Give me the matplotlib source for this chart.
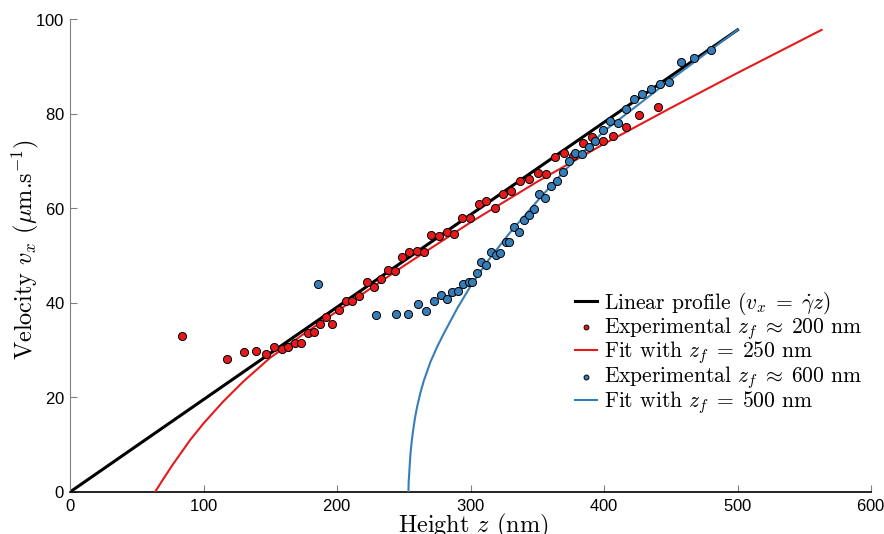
import matplotlib
matplotlib.use('Agg')
import matplotlib.pyplot as plt

plt.rcParams['mathtext.fontset'] = 'cm'
plt.rcParams['font.family'] = 'serif'
plt.rcParams['font.serif'] = ['cmr10', 'DejaVu Serif']
plt.rcParams['axes.formatter.use_mathtext'] = True

rouge = '#e41a1c'
bleu = '#377eb8'

# profil lineaire
lin_z = [0, 500]
lin_v = [0, 97.7]

# experience z_f ~ 200 nm
rouge_z = [84, 117.4, 130.6, 139.3, 146.6, 152.8, 158.6, 163.5, 168.3, 173, 178, 182.5,
           187.3, 191.8, 196.3, 201.5, 206.5, 211.2, 216.5, 222.2, 227.7, 232.7, 238,
           243.2, 248.7, 254.2, 259.7, 265.2, 270.6, 276.2, 282.2, 287.6, 293.9, 299.9,
           306.1, 311.8, 318.4, 324.6, 330.6, 337.1, 343.6, 350.3, 356.6, 363.5, 370.3,
           377, 384.5, 391.2, 399, 407, 416.2, 426.5, 440.2]
rouge_v = [33.0, 28.1, 29.7, 29.8, 29.1, 30.6, 30.2, 30.6, 31.6, 31.5, 33.6, 33.9,
           35.5, 37.0, 35.5, 38.5, 40.4, 40.4, 41.4, 44.4, 43.4, 45.1, 46.9,
           46.7, 49.6, 50.7, 51.0, 50.8, 54.3, 54.2, 55.0, 54.5, 57.9, 57.9,
           60.9, 61.5, 60.0, 62.9, 63.6, 65.8, 66.1, 67.4, 67.2, 70.9, 71.6,
           71.0, 73.8, 75.1, 74.3, 75.2, 77.2, 79.6, 81.5]

# fit z_f = 250 nm
fit_rouge_z = [63.7, 70, 77, 90, 100, 115, 130, 150, 175, 200, 250, 300, 350, 400, 450, 500, 563]
fit_rouge_v = [0, 2.8, 5.8, 11.0, 14.5, 19.2, 23.4, 28.4, 33.4, 38.2, 47.8, 57.0, 65.6, 73.6, 81.2, 88.6, 97.7]

# experience z_f ~ 600 nm
bleu_z = [186, 229.2, 244, 253.4, 261, 267, 272.7, 277.7, 282.2, 286.4, 290.9, 294.4,
          298.9, 301.4, 304.9, 308.1, 311.7, 315.1, 319.1, 322.1, 326.4, 329, 332.8,
          336.1, 340.3, 343.8, 347.6, 351.5, 355.6, 360.1, 364.6, 369.1, 373.8, 378.5,
          383.5, 388.5, 393.5, 399, 404.5, 410.2, 416.2, 422.5, 428.5, 435, 442, 449,
          457.7, 467.2, 480.2]
bleu_v = [44.0, 37.4, 37.6, 37.6, 39.7, 38.3, 40.4, 41.7, 40.9, 42.2, 42.5, 44.0,
          44.3, 44.3, 46.4, 48.7, 48.0, 50.8, 50.0, 50.6, 52.8, 52.8, 56.1,
          54.9, 57.4, 58.6, 59.9, 63.0, 62.1, 64.6, 65.7, 67.6, 70.0, 71.7,
          71.5, 72.9, 74.3, 76.5, 78.4, 78.1, 81.0, 83.1, 84.1, 85.3, 86.3, 86.6,
          91.0, 91.8, 93.4]

# fit z_f = 500 nm
fit_bleu_z = [253.5, 253.7, 254, 254.5, 255, 256, 257, 258.5, 260, 262.5, 265, 270, 275, 280,
              290, 300, 312, 330, 350, 370, 400, 450, 500]
fit_bleu_v = [0, 2.3, 3.5, 5.8, 8.0, 10.8, 13.0, 15.8, 18.0, 21.0, 23.5, 27.5, 30.7, 33.5,
              38.8, 43.5, 48.5, 55.0, 61.5, 67.8, 76.3, 87.2, 97.7]

fig = plt.figure(figsize=(8.84, 5.34), dpi=100)
ax = fig.add_axes([0.0792, 0.0787, 0.9061, 0.8857])

ax.plot(lin_z, lin_v, color='black', lw=2.2, label=r'Linear profile ($v_x\;=\;\dot{\gamma} z$)', zorder=2)
ax.scatter(rouge_z, rouge_v, s=34, color=rouge, edgecolors='black', linewidths=0.7,
           label=r'Experimental $z_f\;\approx\;200$ nm', zorder=4)
ax.plot(fit_rouge_z, fit_rouge_v, color=rouge, lw=1.5, label=r'Fit with $z_f\;=\;250$ nm', zorder=3)
ax.scatter(bleu_z, bleu_v, s=34, color=bleu, edgecolors='black', linewidths=0.7,
           label=r'Experimental $z_f\;\approx\;600$ nm', zorder=4)
ax.plot(fit_bleu_z, fit_bleu_v, color=bleu, lw=1.5, label=r'Fit with $z_f\;=\;500$ nm', zorder=3)

ax.set_xlim(0, 600)
ax.set_ylim(0, 100)
ax.set_xticks([0, 100, 200, 300, 400, 500, 600])
ax.set_yticks([0, 20, 40, 60, 80, 100])

for s in ['top', 'right']:
    ax.spines[s].set_visible(False)
ax.spines['left'].set_color('#808080')
ax.spines['bottom'].set_color('black')
ax.spines['bottom'].set_linewidth(1.2)
ax.tick_params(direction='in', length=5, color='#808080', labelsize=12, pad=4)
for lab in ax.get_xticklabels() + ax.get_yticklabels():
    lab.set_fontfamily('Liberation Sans')

ax.set_xlabel(r'Height $z$ (nm)', fontsize=17.5, va='top')
ax.xaxis.set_label_coords(0.504, -0.043)
ax.set_ylabel(r'Velocity $v_x$ ($\mu$m.s$^{-1}$)', fontsize=17.5)
ax.yaxis.set_label_coords(-0.036, 0.512)

ax.legend(loc='upper left', bbox_to_anchor=(0.6305, 0.427), frameon=False, fontsize=15.5,
          handlelength=1.0, handletextpad=0.35, labelspacing=-0.1, markerscale=0.6,
          scatterpoints=1, borderpad=0, borderaxespad=0)

fig.savefig('out.png', dpi=100)
